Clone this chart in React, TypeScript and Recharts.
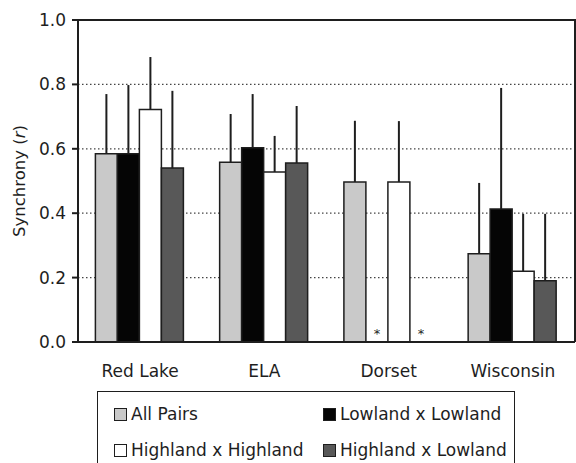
import React from "react";
import {
  BarChart,
  Bar,
  XAxis,
  YAxis,
  CartesianGrid,
  ErrorBar,
  Rectangle,
  Legend,
  Label,
} from "recharts";

const sites = ["Red Lake", "ELA", "Dorset", "Wisconsin"];

// mean synchrony per site; null where the pair type did not exist
const allPairs = [0.585, 0.558, 0.497, 0.274];
const lowLow = [0.585, 0.603, null, 0.413];
const highHigh = [0.722, 0.528, 0.497, 0.22];
const highLow = [0.54, 0.556, null, 0.19];

// upper error (only the + side is drawn in the figure)
const allPairsErr = [0.185, 0.15, 0.19, 0.22];
const lowLowErr = [0.213, 0.167, null, 0.376];
const highHighErr = [0.163, 0.112, 0.189, 0.178];
const highLowErr = [0.24, 0.177, null, 0.208];

const yTicks = [0, 0.2, 0.4, 0.6, 0.8, 1.0];

const series = [
  { key: "allPairs", name: "All Pairs", fill: "#c9c9c9" },
  { key: "lowLow", name: "Lowland x Lowland", fill: "#050505" },
  { key: "highHigh", name: "Highland x Highland", fill: "#ffffff" },
  { key: "highLow", name: "Highland x Lowland", fill: "#585858" },
];

const data = sites.map((site, i) => ({
  site,
  allPairs: allPairs[i],
  allPairsErr: [0, allPairsErr[i]],
  lowLow: lowLow[i] ?? 0,
  lowLowErr: [0, lowLowErr[i] ?? 0],
  lowLowMark: lowLow[i] == null ? "*" : "",
  highHigh: highHigh[i],
  highHighErr: [0, highHighErr[i]],
  highLow: highLow[i] ?? 0,
  highLowErr: [0, highLowErr[i] ?? 0],
  highLowMark: highLow[i] == null ? "*" : "",
}));

const FONT = "'DejaVu Sans', sans-serif";
const INK = "#1e1e1e";

const W = 576;
const H = 463;
const M = { top: 20, right: 1, bottom: 91, left: 0 };
const Y_AXIS_W = 78;
const X_AXIS_H = 30;

// bars with no data get a small asterisk at the base instead of a rectangle
const barShape = (markKey: string) => (props: any) => {
  if (props.payload && props.payload[markKey] === "*") {
    return (
      <text
        x={props.x + props.width / 2}
        y={props.y + props.height - 4}
        textAnchor="middle"
        fontSize={13}
        fontFamily={FONT}
        fill={INK}
      >
        *
      </text>
    );
  }
  return <Rectangle {...props} />;
};

const YLabel = (props: any) => {
  const { viewBox } = props;
  const cx = 19;
  const cy = viewBox.y + viewBox.height / 2;
  return (
    <text
      x={cx}
      y={cy}
      transform={`rotate(-90, ${cx}, ${cy})`}
      textAnchor="middle"
      dominantBaseline="central"
      fontSize={16.5}
      fontFamily={FONT}
      fill={INK}
    >
      Synchrony (<tspan fontStyle="italic">r</tspan>)
    </text>
  );
};

const LegendBox = () => {
  const pos = [
    { left: 16, top: 12 },
    { left: 225, top: 12 },
    { left: 16, top: 48 },
    { left: 225, top: 48 },
  ];
  return (
    <div
      style={{
        position: "relative",
        width: 418,
        height: 80,
        border: `1.5px solid ${INK}`,
        boxSizing: "border-box",
        fontFamily: FONT,
        fontSize: 17,
        color: INK,
        background: "#fff",
      }}
    >
      {series.map((s, i) => (
        <div
          key={s.key}
          style={{
            position: "absolute",
            left: pos[i].left,
            top: pos[i].top,
            display: "flex",
            alignItems: "center",
            whiteSpace: "nowrap",
            lineHeight: "20px",
          }}
        >
          <span
            style={{
              display: "inline-block",
              width: 11,
              height: 11,
              background: s.fill,
              border: `1.5px solid ${INK}`,
              marginRight: 4,
            }}
          />
          {s.name}
        </div>
      ))}
    </div>
  );
};

export default function App() {
  // plot-area frame (top and right edges), derived from the chart margins
  const plotLeft = M.left + Y_AXIS_W - 1;
  const plotTop = M.top - 1;
  const plotW = W - M.right - plotLeft + 1;
  const plotH = H - M.bottom - X_AXIS_H - plotTop;
  return (
    <div style={{ position: "fixed", left: 0, top: 0, background: "#fff" }}>
      <BarChart
        width={W}
        height={H}
        data={data}
        margin={M}
        barGap={0}
        barCategoryGap="14%"
      >
        <CartesianGrid
          horizontal
          vertical={false}
          stroke="#444"
          strokeDasharray="1.5 2.5"
          strokeWidth={1.2}
        />
        <XAxis
          dataKey="site"
          height={X_AXIS_H}
          tickLine={false}
          tickSize={0}
          tickMargin={23}
          axisLine={{ stroke: INK, strokeWidth: 2 }}
          tick={{ fill: INK, fontSize: 17, fontFamily: FONT }}
        />
        <YAxis
          domain={[0, 1]}
          ticks={yTicks}
          width={Y_AXIS_W}
          interval={0}
          tickSize={6}
          tickMargin={6}
          tickFormatter={(v: number) => v.toFixed(1)}
          axisLine={{ stroke: INK, strokeWidth: 2 }}
          tickLine={{ stroke: INK, strokeWidth: 2 }}
          tick={{ fill: INK, fontSize: 17, fontFamily: FONT }}
        >
          <Label content={<YLabel />} />
        </YAxis>
        <Legend
          layout="vertical"
          align="center"
          verticalAlign="middle"
          wrapperStyle={{ left: 97, top: 391, width: 418, height: 80 }}
          content={() => <LegendBox />}
        />
        {series.map((s) => (
          <Bar
            key={s.key}
            dataKey={s.key}
            name={s.name}
            fill={s.fill}
            stroke={INK}
            strokeWidth={1.5}
            isAnimationActive={false}
            shape={barShape(`${s.key}Mark`)}
          >
            <ErrorBar
              dataKey={`${s.key}Err`}
              width={0}
              stroke={INK}
              strokeWidth={2}
              direction="y"
            />
          </Bar>
        ))}
      </BarChart>
      <div
        style={{
          position: "absolute",
          left: plotLeft,
          top: plotTop,
          width: plotW,
          height: plotH,
          borderTop: `2px solid ${INK}`,
          borderRight: `2px solid ${INK}`,
          boxSizing: "border-box",
          pointerEvents: "none",
        }}
      />
    </div>
  );
}
